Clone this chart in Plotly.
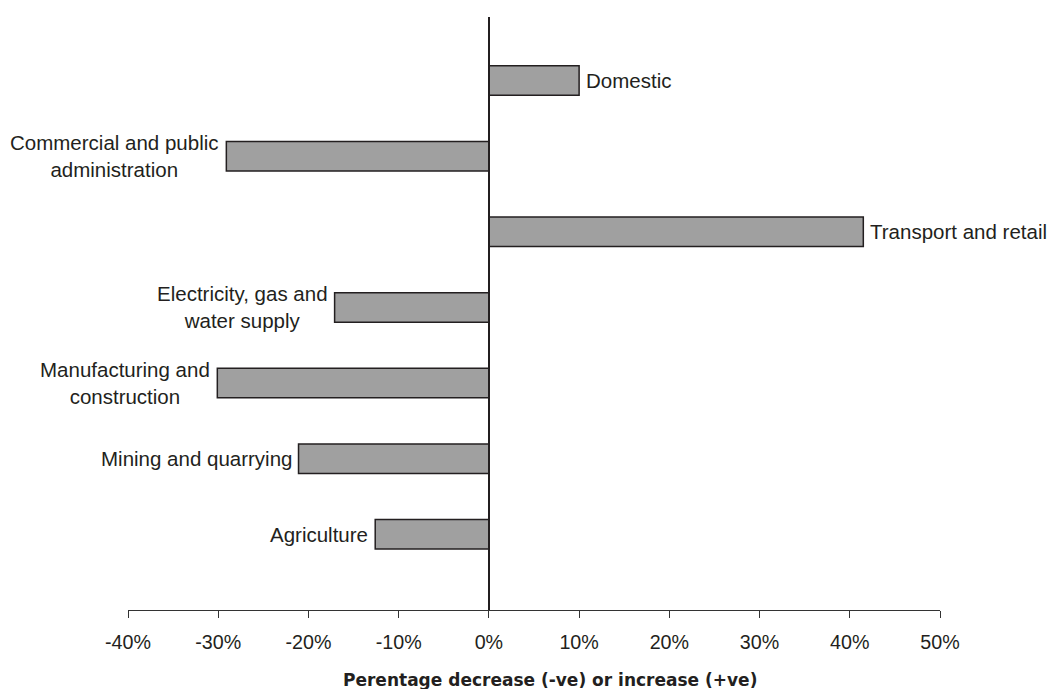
import plotly.graph_objects as go

categories = ["Agriculture", "Mining and quarrying", "Manufacturing and<br>construction",
              "Electricity, gas and<br>water supply", "Transport and retail",
              "Commercial and public<br>administration", "Domestic"]
values = [-12.6, -21.1, -30.1, -17.1, 41.5, -29.1, 10.0]
tick_vals = [-40, -30, -20, -10, 0, 10, 20, 30, 40, 50]
tick_text = [f"{v}%" for v in tick_vals]
x_title = "Perentage decrease (-ve) or increase (+ve)"

TXT = "#231f20"
FONT = "Liberation Sans, Arial, sans-serif"

pos = list(range(len(categories)))

fig = go.Figure(go.Bar(
    x=values, y=pos, orientation="h", width=0.39,
    marker=dict(color="#a0a0a0", line=dict(color="#231f20", width=1.5)),
    hoverinfo="skip",
))

for p, v, c in zip(pos, values, categories):
    fig.add_annotation(
        x=v, y=p, xref="x", yref="y", text=c, showarrow=False,
        xanchor="left" if v >= 0 else "right",
        xshift=5 if v >= 0 else -5, align="center",
        font=dict(family=FONT, size=20.5, color=TXT),
    )

fig.add_annotation(
    x=0.52, y=-0.118, xref="paper", yref="paper", text=f"<b>{x_title}</b>",
    showarrow=False, xanchor="center", yanchor="middle",
    font=dict(family="DejaVu Sans, sans-serif", size=17, color=TXT),
)

fig.update_layout(
    width=1048, height=681,
    margin=dict(l=120, r=116, t=9, b=79),
    paper_bgcolor="white", plot_bgcolor="white",
    showlegend=False,
    xaxis=dict(
        range=[-40, 50], tickvals=tick_vals, ticktext=tick_text,
        showgrid=False, zeroline=False, showline=True, linecolor="#333333", linewidth=1,
        ticks="outside", ticklen=7, tickcolor="#333333", tickwidth=1,
        ticklabelstandoff=7,
        tickfont=dict(family=FONT, size=19.7, color=TXT),
    ),
    yaxis=dict(
        range=[-1.0, 6.84], showgrid=False, zeroline=False, showticklabels=False,
        showline=True, linecolor="#231f20", linewidth=1.5,
        anchor="free", position=4/9, ticks="",
    ),
)

fig.write_html("out.html")
